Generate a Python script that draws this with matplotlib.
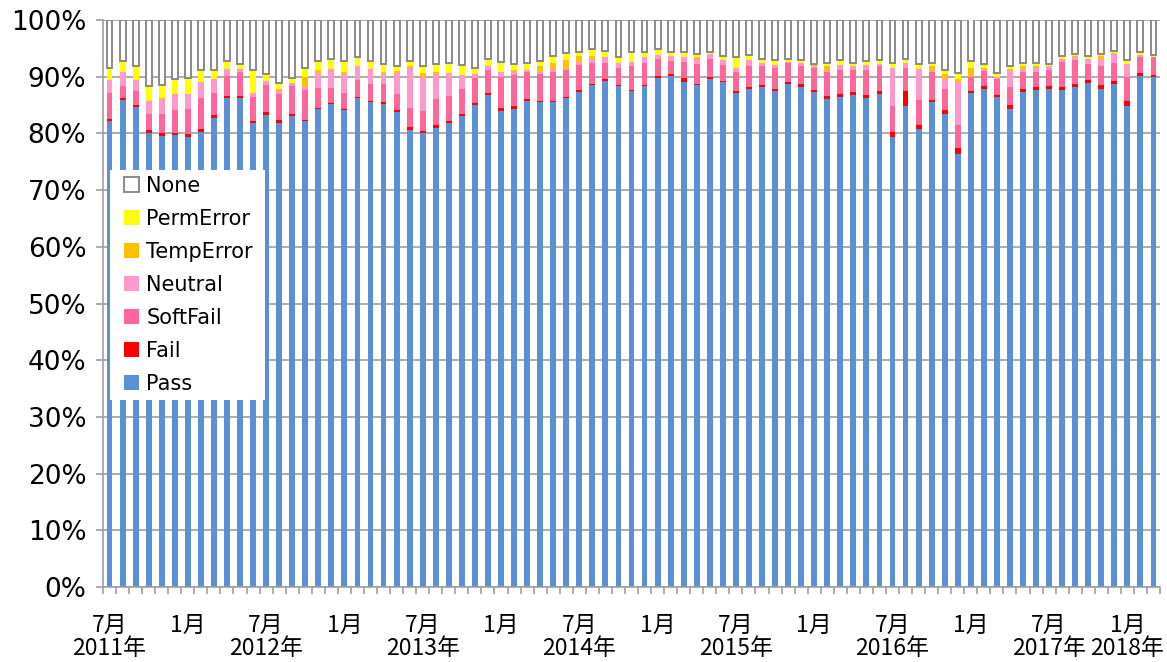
import matplotlib
matplotlib.use("Agg")
import matplotlib.pyplot as plt
import numpy as np
from matplotlib.patches import Rectangle

# Months: Jul 2011 .. Mar 2018 (81 bars)
n_bars = 81
tick_label_index = [0, 6, 12, 18, 24, 30, 36, 42, 48, 54, 60, 66, 72, 78]
tick_labels = ["7月\n2011年", "1月", "7月\n2012年", "1月", "7月\n2013年", "1月",
               "7月\n2014年", "1月", "7月\n2015年", "1月", "7月\n2016年", "1月",
               "7月\n2017年", "1月\n2018年"]

pass_vals = [82.1, 85.9, 84.7, 80.0, 79.6, 79.7, 79.4, 80.2, 82.8, 86.2,
             86.2, 81.8, 83.3, 81.9, 83.0, 82.1, 84.3, 85.1, 84.1, 86.2,
             85.5, 85.2, 83.7, 80.6, 80.0, 80.9, 81.8, 83.0, 85.0, 86.8,
             84.0, 84.3, 85.7, 85.5, 85.5, 86.2, 87.3, 88.5, 89.3, 88.3,
             87.5, 88.3, 89.8, 90.2, 89.1, 88.5, 89.6, 89.0, 87.1, 87.9,
             88.2, 87.5, 88.7, 88.2, 87.3, 86.0, 86.4, 86.7, 86.2, 86.9,
             79.3, 84.8, 80.8, 85.5, 83.5, 76.4, 87.1, 87.8, 86.4, 84.3,
             87.3, 87.7, 87.8, 87.6, 88.2, 88.9, 87.9, 88.7, 84.9, 90.2, 89.9]

fail_vals = [0.4, 0.3, 0.3, 0.6, 0.4, 0.4, 0.5, 0.6, 0.4, 0.4,
             0.4, 0.4, 0.5, 0.5, 0.4, 0.3, 0.2, 0.2, 0.2, 0.3,
             0.3, 0.3, 0.4, 0.5, 0.4, 0.5, 0.4, 0.4, 0.3, 0.3,
             0.5, 0.6, 0.4, 0.3, 0.3, 0.3, 0.3, 0.3, 0.3, 0.2,
             0.2, 0.2, 0.4, 0.3, 0.6, 0.3, 0.3, 0.3, 0.3, 0.3,
             0.3, 0.3, 0.4, 0.5, 0.3, 0.6, 0.6, 0.6, 0.6, 0.6,
             0.9, 2.7, 0.7, 0.4, 0.6, 1.1, 0.4, 0.5, 0.4, 0.7,
             0.6, 0.4, 0.5, 0.5, 0.6, 0.5, 0.6, 0.6, 0.9, 0.4, 0.4]

softfail_vals = [4.7, 2.2, 2.4, 2.8, 3.4, 4.1, 4.4, 5.4, 4.0, 3.5,
                 4.2, 4.3, 4.7, 4.5, 5.0, 5.3, 3.5, 2.7, 2.8, 3.0,
                 2.9, 3.2, 2.8, 3.3, 3.6, 4.6, 4.4, 4.5, 4.4, 4.1,
                 5.4, 5.4, 4.7, 4.6, 5.1, 4.6, 4.5, 3.7, 2.9, 3.1,
                 4.1, 3.9, 2.9, 2.3, 2.9, 3.4, 3.2, 2.8, 3.4, 3.7,
                 3.4, 3.8, 3.3, 3.2, 3.9, 4.2, 4.2, 3.9, 4.4, 4.3,
                 4.7, 4.1, 4.4, 5.0, 3.7, 4.0, 2.4, 2.7, 2.8, 3.2,
                 2.9, 2.8, 2.9, 4.5, 4.2, 2.8, 3.4, 3.1, 4.1, 2.8, 3.1]

neutral_vals = [2.2, 2.4, 2.1, 2.4, 2.6, 2.7, 2.6, 2.9, 2.4, 1.3,
                0.6, 0.6, 0.8, 0.6, 0.5, 0.4, 2.6, 3.4, 3.4, 2.4,
                2.7, 1.8, 3.7, 7.1, 6.0, 4.4, 4.0, 2.4, 0.8, 0.6,
                0.9, 0.5, 0.4, 0.4, 0.5, 0.3, 0.5, 0.7, 1.0, 0.9,
                0.8, 1.0, 0.8, 0.9, 0.9, 0.9, 0.9, 0.8, 0.8, 1.0,
                0.6, 0.5, 0.2, 0.6, 0.4, 0.2, 0.9, 0.6, 0.8, 0.4,
                6.7, 0.9, 5.5, 0.1, 1.8, 7.6, 0.1, 0.2, 0.4, 2.8,
                0.6, 0.7, 0.6, 0.6, 0.4, 1.0, 1.2, 1.6, 2.3, 0.5, 0.1]

temperror_vals = [0, 0, 0, 0, 0.2, 0, 0, 0, 0, 0,
                  0, 0, 0, 0.3, 0, 1.9, 0.5, 0, 0.3, 0,
                  0, 0.3, 0.4, 0.3, 0.6, 0.4, 0, 0, 0, 0,
                  0, 0.3, 0, 1.0, 1.1, 1.5, 1.1, 0.4, 0, 0,
                  0, 0, 0, 0, 0, 0.4, 0, 0, 0, 0,
                  0, 0, 0, 0, 0.1, 0.8, 0, 0, 0, 0,
                  0, 0, 0, 0.8, 0.8, 0.5, 1.5, 0.4, 0, 0.4,
                  0.4, 0.3, 0, 0, 0.3, 0, 0.6, 0.2, 0, 0, 0]

permerror_vals = [2.1, 1.9, 2.3, 2.6, 2.3, 2.7, 2.8, 2.0, 1.6, 1.3,
                  0.8, 4.1, 1.1, 1.1, 0.9, 1.6, 1.6, 1.8, 1.9, 1.5,
                  1.4, 1.4, 0.9, 1.0, 1.2, 1.4, 1.8, 1.8, 1.0, 1.4,
                  1.8, 1.1, 1.2, 1.0, 1.2, 1.2, 0.6, 1.2, 1.1, 0.9,
                  1.8, 1.0, 0.9, 0.7, 0.9, 0.5, 0.4, 0.7, 1.9, 0.9,
                  0.6, 0.9, 0.6, 0.4, 0.3, 0.7, 0.9, 0.7, 0.8, 0.7,
                  0.9, 0.7, 0.9, 0.6, 0.7, 1.0, 1.2, 0.6, 0.6, 0.4,
                  0.6, 0.5, 0.4, 0.4, 0.3, 0.4, 0.3, 0.4, 0.7, 0.4, 0.4]

none_vals = [8.5, 7.3, 8.2, 11.6, 11.5, 10.4, 10.3, 8.9, 8.8, 7.3,
             7.8, 8.8, 9.6, 11.1, 10.2, 8.4, 7.3, 6.8, 7.3, 6.6,
             7.2, 7.8, 8.1, 7.2, 8.2, 7.8, 7.6, 7.9, 8.5, 6.8,
             7.4, 7.8, 7.6, 7.2, 6.3, 5.9, 5.7, 5.2, 5.4, 6.6,
             5.6, 5.6, 5.2, 5.6, 5.6, 6.0, 5.6, 6.4, 6.5, 6.2,
             6.9, 7.0, 6.8, 7.1, 7.7, 7.5, 7.0, 7.5, 7.2, 7.1,
             7.5, 6.8, 7.7, 7.6, 8.9, 9.4, 7.4, 7.8, 9.4, 8.2,
             7.6, 7.6, 7.8, 6.4, 6.0, 6.4, 6.0, 5.4, 7.1, 5.7, 6.1]

series = [
    ("Pass", pass_vals, "#5B8FD6"),
    ("Fail", fail_vals, "#FF0000"),
    ("SoftFail", softfail_vals, "#FF6699"),
    ("Neutral", neutral_vals, "#FF99CC"),
    ("TempError", temperror_vals, "#FFC000"),
    ("PermError", permerror_vals, "#FFFF00"),
]

fig = plt.figure(figsize=(11.67, 6.62), dpi=100)
ax = fig.add_axes([103/1167, 1 - 587/662, (1160 - 103)/1167, (587 - 20)/662])

x = np.arange(n_bars)
w = 0.45
bottom = np.zeros(n_bars)
handles = {}
for name, vals, col in series:
    v = np.array(vals, dtype=float)
    h = ax.bar(x, v, w, bottom=bottom, color=col, linewidth=0, zorder=2)
    handles[name] = h
    bottom += v
hn = ax.bar(x, np.array(none_vals), w, bottom=bottom, facecolor="white",
            edgecolor="#8A8A8A", linewidth=1.4, zorder=2)
handles["None"] = hn

ax.set_xlim(-0.5, n_bars - 0.5)
ax.set_ylim(0, 100)

grid_col = "#A0A0A0"
ax.set_yticks(np.arange(0, 101, 10))
ax.set_yticklabels([f"{v}%" for v in range(0, 101, 10)])
ax.yaxis.grid(True, color=grid_col, linewidth=1.2)
ax.set_axisbelow(True)
ax.tick_params(axis="y", length=5, width=1.2, color=grid_col, pad=7,
               labelsize=19, labelcolor="black")

ax.set_xticks(np.arange(-0.5, n_bars, 1))
ax.set_xticklabels([])
ax.tick_params(axis="x", which="major", length=5, width=1.2, color=grid_col)
ax.set_xticks(tick_label_index, minor=True)
ax.set_xticklabels(tick_labels, minor=True,
                   family=["Noto Sans CJK JP", "DejaVu Sans"], fontsize=16.5,
                   linespacing=1.05)
ax.tick_params(axis="x", which="minor", length=0, pad=19, labelcolor="black")

for s in ["top", "right"]:
    ax.spines[s].set_visible(False)
for s in ["left", "bottom"]:
    ax.spines[s].set_color(grid_col)
    ax.spines[s].set_linewidth(1.2)

# legend background box
ax.add_patch(Rectangle(((110 - 103)/1057, (587 - 400)/567), (265 - 110)/1057,
                       (400 - 170)/567, transform=ax.transAxes,
                       facecolor="white", edgecolor="none", zorder=5))
order = ["None", "PermError", "TempError", "Neutral", "SoftFail", "Fail", "Pass"]
leg = ax.legend([handles[k] for k in order], order, loc="upper left",
                bbox_to_anchor=((124 - 103)/1057, (587 - 176)/567),
                frameon=False, fontsize=15, handlelength=0.72, handleheight=0.72,
                handletextpad=0.35, labelspacing=0.62, borderpad=0,
                borderaxespad=0)
leg.set_zorder(6)

fig.savefig("out.png", dpi=100)
